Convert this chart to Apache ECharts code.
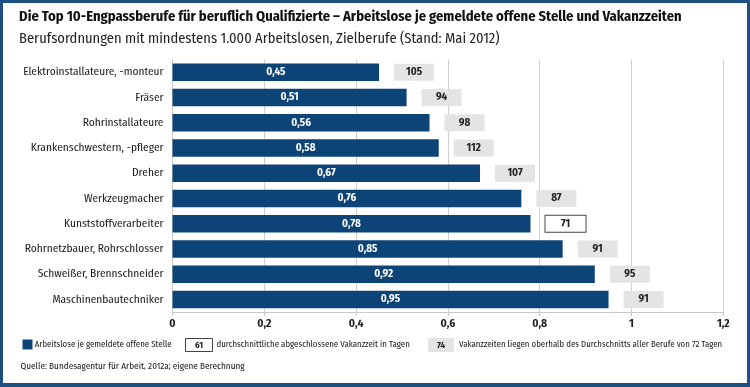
<!DOCTYPE html>
<html>
<head>
<meta charset="utf-8">
<script src="https://cdn.jsdelivr.net/npm/echarts@6/dist/echarts.min.js"></script>
<style>
html,body{margin:0;padding:0;background:#fff;}
#c{width:750px;height:387px;}
</style>
</head>
<body>
<div id="c"></div>
<script>
var categories = ["Elektroinstallateure, -monteur","Fräser","Rohrinstallateure","Krankenschwestern, -pfleger","Dreher","Werkzeugmacher","Kunststoffverarbeiter","Rohrnetzbauer, Rohrschlosser","Schweißer, Brennschneider","Maschinenbautechniker"];
var ratio = [0.45,0.51,0.56,0.58,0.67,0.76,0.78,0.85,0.92,0.95];
var vacancyDays = [105,94,98,112,107,87,71,91,95,91];
var averageDays = 72;
var xTicks = [0,0.2,0.4,0.6,0.8,1,1.2];

var TITLE = 'Die Top 10-Engpassberufe für beruflich Qualifizierte – Arbeitslose je gemeldete offene Stelle und Vakanzzeiten';
var SUBTITLE = 'Berufsordnungen mit mindestens 1.000 Arbeitslosen, Zielberufe (Stand: Mai 2012)';
var LEG1 = 'Arbeitslose je gemeldete offene Stelle';
var LEG2 = 'durchschnittliche abgeschlossene Vakanzzeit in Tagen';
var LEG3 = 'Vakanzzeiten liegen oberhalb des Durchschnitts aller Berufe von 72 Tagen';
var SOURCE = 'Quelle: Bundesagentur für Arbeit, 2012a; eigene Berechnung';

var FONT = "'Fira Sans Condensed','Roboto Condensed',sans-serif";
var BLUE = '#0d4478';

// font size so that a text fills a given width in the reference
var ctx = document.createElement('canvas').getContext('2d');
function fit(text, weight, target){
  ctx.font = weight + ' 100px ' + FONT;
  return Math.round(100 * target / ctx.measureText(text).width * 10) / 10;
}
var titleSize = fit(TITLE, 'bold', 663);
var subSize = fit(SUBTITLE, 'normal', 481);
var catSize = fit(categories[0], 'normal', 140.5);
var legSize = fit(LEG1, 'normal', 137);
var srcSize = fit(SOURCE, 'normal', 224);

var chart = echarts.init(document.getElementById('c'), null, {renderer:'canvas'});
function fmtNum(v){ return String(v).replace('.', ','); }

var option = {
  backgroundColor: '#fff',
  animation: false,
  textStyle: {fontFamily: FONT},
  title: {
    text: TITLE, subtext: SUBTITLE,
    left: 19, top: 8, padding: 0, itemGap: 4,
    textStyle: {fontFamily: FONT, fontSize: titleSize, lineHeight: 18, fontWeight: 'bold', color: '#111'},
    subtextStyle: {fontFamily: FONT, fontSize: subSize, lineHeight: 18, color: '#222'}
  },
  grid: {left: 172.5, right: 26.7, top: 59.5, bottom: 75, outerBoundsMode: 'none', containLabel: false},
  xAxis: {
    type: 'value', min: 0, max: 1.2, interval: 0.2,
    axisLine: {show: true, lineStyle: {color: '#c8c8c8'}},
    axisTick: {show: true, length: 4, lineStyle: {color: '#c8c8c8'}},
    splitLine: {show: true, lineStyle: {color: '#cfcfcf'}},
    axisLabel: {
      fontFamily: FONT, fontSize: 11.5, fontWeight: 'bold', color: '#222', margin: 6,
      formatter: function(v){ var t = xTicks.filter(function(x){return Math.abs(x-v)<1e-9;}); return t.length ? fmtNum(+v.toFixed(1)) : ''; }
    }
  },
  yAxis: {
    type: 'category', data: categories, inverse: true,
    axisLine: {show: true, lineStyle: {color: '#c8c8c8'}},
    axisTick: {show: false},
    axisLabel: {fontFamily: FONT, fontSize: catSize, color: '#1a1a1a', margin: 9}
  },
  series: [
    {
      name: LEG1,
      type: 'bar', data: ratio, barWidth: 17.5, barGap: '-100%',
      itemStyle: {color: BLUE},
      label: {
        show: true, position: 'inside', color: '#fff', fontFamily: FONT, fontSize: 11, fontWeight: 'bold',
        formatter: function(p){ return fmtNum(p.value.toFixed(2)); }
      },
      silent: true
    },
    {
      name: 'Vakanzzeit',
      type: 'bar', barWidth: 17.5, barGap: '-100%', silent: true,
      itemStyle: {color: 'rgba(0,0,0,0)'},
      data: ratio,
      label: {
        show: true, position: 'right', distance: 15,
        formatter: function(p){
          var d = vacancyDays[p.dataIndex];
          return (d > averageDays ? '{g|' : '{w|') + d + '}';
        },
        rich: {
          g: {backgroundColor: '#e4e4e4', width: 40, height: 17, lineHeight: 17, align: 'center',
              fontFamily: FONT, fontSize: 11, fontWeight: 'bold', color: '#222'},
          w: {backgroundColor: '#fff', borderColor: '#444', borderWidth: 1, width: 40, height: 16, lineHeight: 16, align: 'center',
              fontFamily: FONT, fontSize: 11, fontWeight: 'bold', color: '#222'}
        }
      }
    }
  ],
  graphic: [
    {type: 'rect', shape: {x: 1.5, y: 1.5, width: 747, height: 383}, style: {fill: 'none', stroke: '#1d4f80', lineWidth: 3}, silent: true},
    {type: 'rect', shape: {x: 0, y: 383, width: 750, height: 4}, style: {fill: '#1d4f80'}, silent: true},
    {type: 'rect', shape: {x: 22.5, y: 339.5, width: 10, height: 10}, style: {fill: BLUE}},
    {type: 'text', x: 34.7, y: 345, style: {text: LEG1, font: legSize + 'px ' + FONT, fill: '#222', verticalAlign: 'middle'}},
    {type: 'rect', shape: {x: 185.5, y: 338.5, width: 27, height: 13}, style: {fill: '#fff', stroke: '#444', lineWidth: 1}},
    {type: 'text', x: 199, y: 345.5, style: {text: '61', font: 'bold 9px ' + FONT, fill: '#222', align: 'center', verticalAlign: 'middle'}},
    {type: 'text', x: 216.5, y: 345, style: {text: LEG2, font: legSize + 'px ' + FONT, fill: '#222', verticalAlign: 'middle'}},
    {type: 'rect', shape: {x: 428, y: 338, width: 26, height: 14}, style: {fill: '#e4e4e4'}},
    {type: 'text', x: 441, y: 345.5, style: {text: '74', font: 'bold 9px ' + FONT, fill: '#222', align: 'center', verticalAlign: 'middle'}},
    {type: 'text', x: 459, y: 345, style: {text: LEG3, font: legSize + 'px ' + FONT, fill: '#222', verticalAlign: 'middle'}},
    {type: 'text', x: 20.5, y: 366.5, style: {text: SOURCE, font: srcSize + 'px ' + FONT, fill: '#222', verticalAlign: 'middle'}}
  ]
};
chart.setOption(option);
</script>
</body>
</html>
